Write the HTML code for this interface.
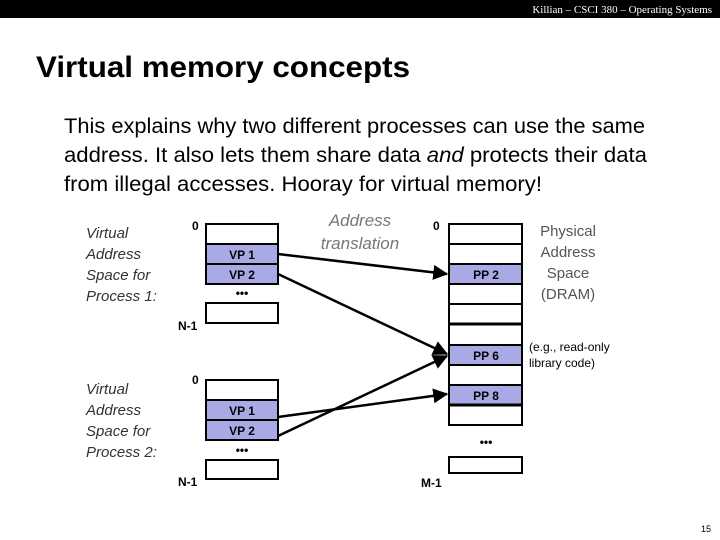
<!DOCTYPE html>
<html><head><meta charset="utf-8"><style>
html,body{margin:0;padding:0;background:#fff;}
svg{display:block;}
</style></head><body>
<svg width="720" height="540" viewBox="0 0 720 540" xmlns="http://www.w3.org/2000/svg" font-family="Liberation Sans, sans-serif">
<rect x="0" y="0" width="720" height="18" fill="#000"/>
<text x="712" y="13" fill="#fff" font-family="Liberation Serif, serif" font-size="11" text-anchor="end">Killian – CSCI 380 – Operating Systems</text>
<text x="36" y="77" font-size="30" font-weight="bold" textLength="374" lengthAdjust="spacingAndGlyphs">Virtual memory concepts</text>
<text x="64" y="133" font-size="21" textLength="581" lengthAdjust="spacingAndGlyphs">This explains why two different processes can use the same</text>
<text x="64" y="162" font-size="21" textLength="583" lengthAdjust="spacingAndGlyphs">address. It also lets them share data <tspan font-style="italic">and</tspan> protects their data</text>
<text x="64" y="191" font-size="21" textLength="478" lengthAdjust="spacingAndGlyphs">from illegal accesses. Hooray for virtual memory!</text>

<g font-size="15" font-style="italic" fill="#333">
<text x="86" y="238">Virtual</text><text x="86" y="259">Address</text><text x="86" y="280">Space for</text><text x="86" y="301">Process 1:</text>
<text x="86" y="394">Virtual</text><text x="86" y="415">Address</text><text x="86" y="436">Space for</text><text x="86" y="457">Process 2:</text>
</g>
<g font-size="17" font-style="italic" fill="#777" text-anchor="middle">
<text x="360" y="226">Address</text><text x="360" y="249">translation</text>
</g>
<g font-size="15" fill="#555" text-anchor="middle">
<text x="568" y="236">Physical</text><text x="568" y="257">Address</text><text x="568" y="278">Space</text><text x="568" y="299">(DRAM)</text>
</g>
<g font-size="12" fill="#000"><text x="529" y="351">(e.g., read-only</text><text x="529" y="367">library code)</text></g>

<g font-size="12" font-weight="bold" fill="#000">
<text x="192" y="230">0</text><text x="178" y="330">N-1</text>
<text x="192" y="384">0</text><text x="178" y="486">N-1</text>
<text x="433" y="230">0</text><text x="421" y="487">M-1</text>
</g>

<g stroke="#000" stroke-width="2" fill="#fff">
<!-- top left -->
<rect x="206" y="224" width="72" height="20"/>
<rect x="206" y="244" width="72" height="20" fill="#a9a9e6"/>
<rect x="206" y="264" width="72" height="20" fill="#a9a9e6"/>
<rect x="206" y="303" width="72" height="20"/>
<!-- bottom left -->
<rect x="206" y="380" width="72" height="20"/>
<rect x="206" y="400" width="72" height="20" fill="#a9a9e6"/>
<rect x="206" y="420" width="72" height="20" fill="#a9a9e6"/>
<rect x="206" y="460" width="72" height="19"/>
<!-- right -->
<rect x="449" y="224" width="73" height="20"/>
<rect x="449" y="244" width="73" height="20"/>
<rect x="449" y="264" width="73" height="20" fill="#a9a9e6"/>
<rect x="449" y="284" width="73" height="20"/>
<rect x="449" y="304" width="73" height="20"/>
<rect x="449" y="324" width="73" height="21"/>
<rect x="449" y="345" width="73" height="20" fill="#a9a9e6"/>
<rect x="449" y="365" width="73" height="20"/>
<rect x="449" y="385" width="73" height="20" fill="#a9a9e6"/>
<rect x="449" y="405" width="73" height="20"/>
<rect x="449" y="457" width="73" height="16"/>
</g>
<line x1="449" y1="324" x2="522" y2="324" stroke="#000" stroke-width="3"/>
<line x1="449" y1="405" x2="522" y2="405" stroke="#000" stroke-width="3"/>

<g font-size="12" font-weight="bold" fill="#000" text-anchor="middle">
<text x="242" y="259">VP 1</text><text x="242" y="279">VP 2</text><text x="242" y="297">•••</text>
<text x="242" y="415">VP 1</text><text x="242" y="435">VP 2</text><text x="242" y="454">•••</text>
<text x="486" y="279">PP 2</text><text x="486" y="360">PP 6</text><text x="486" y="400">PP 8</text><text x="486" y="446">•••</text>
</g>

<defs><marker id="a" markerWidth="6" markerHeight="6" refX="5.5" refY="3" orient="auto" markerUnits="strokeWidth"><path d="M0,0 L6,3 L0,6 z" fill="#000"/></marker></defs>
<g stroke="#000" stroke-width="2.5" marker-end="url(#a)">
<line x1="278" y1="254" x2="447" y2="274"/>
<line x1="278" y1="274" x2="447" y2="354"/>
<line x1="278" y1="417" x2="447" y2="394"/>
<line x1="278" y1="436" x2="447" y2="356"/>
</g>
<text x="706" y="532" font-size="9" text-anchor="middle">15</text>
</svg>
</body></html>
